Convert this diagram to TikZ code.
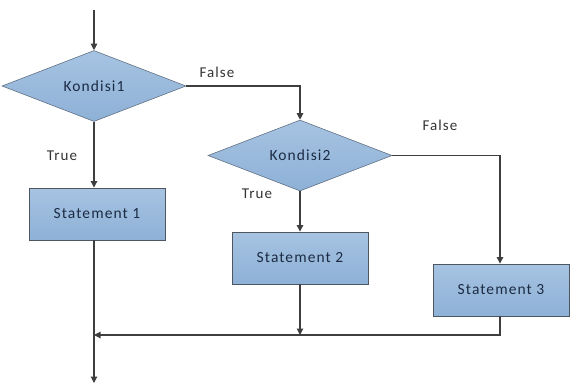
\documentclass[tikz,border=0pt]{standalone}
\usepackage{fontspec}
\setmainfont{Carlito}
\newfontfamily\spaced[LetterSpace=7]{Carlito}
\usetikzlibrary{shapes.geometric,arrows.meta}
\definecolor{nodefillA}{HTML}{A6C3E1}
\definecolor{nodefillB}{HTML}{8EB1D7}
\definecolor{nodeline}{HTML}{4E5660}
\definecolor{nodetext}{HTML}{1C2B44}
\definecolor{wire}{HTML}{3E3E3E}
\definecolor{labeltext}{HTML}{333333}
\tikzset{
  decision/.style={diamond, draw=nodeline!70!nodefillB, line width=0.6pt, top color=nodefillA, bottom color=nodefillB,
    minimum width=184pt, minimum height=71pt, inner sep=0pt, aspect=2.6,
    text=nodetext, font=\spaced\fontsize{15.5}{17}\selectfont},
  stmt/.style={rectangle, draw=nodeline, line width=0.9pt, top color=nodefillA, bottom color=nodefillB,
    minimum width=136pt, minimum height=52pt, inner sep=0pt,
    text=nodetext, font=\spaced\fontsize{15.5}{17}\selectfont},
  wireline/.style={draw=wire, line width=1.1pt, -{Triangle[width=6.5pt,length=6.5pt]}},
  plainwire/.style={draw=wire, line width=1.1pt},
  lbl/.style={text=labeltext, font=\spaced\fontsize{15}{17}\selectfont}
}
\begin{document}
\begin{tikzpicture}[x=1pt,y=-1pt]
\useasboundingbox (0,0) rectangle (572,391);
\coordinate (start) at (94,10);
\node[decision] (k1) at (94,86) {Kondisi1};
\node[decision] (k2) at (300,155.5) {Kondisi2};
\node[stmt] (s1) at (97,214) {Statement 1};
\node[stmt] (s2) at (300,258) {Statement 2};
\node[stmt] (s3) at (501,290) {Statement 3};
\coordinate (merge) at (94,335);
\coordinate (endpt) at (94,383);
\coordinate (m3) at (500,335);
\coordinate (m2) at (300,335);

\draw[wireline] (start) -- (k1.north);
\draw[wireline] (k1.east) -| (k2.north);
\draw[wireline] (k1.south) -- (k1.south |- s1.north);
\draw[wireline] (k2.south) -- (s2.north);
\draw[wireline] (k2.east) -| (m3 |- s3.north);
\draw[wireline] (s2.south) -- (m2);
\draw[plainwire] (m3 |- s3.south) -- (m3) -- (m2);
\draw[wireline] (m2) -- (merge);
\draw[wireline] (k1.south |- s1.south) -- (endpt);

\node[lbl] (f1) at (217,72) {False};
\node[lbl] (t1) at (62,156) {True};
\node[lbl] (t2) at (257,194) {True};
\node[lbl] (f2) at (440,125) {False};
\end{tikzpicture}
\end{document}
